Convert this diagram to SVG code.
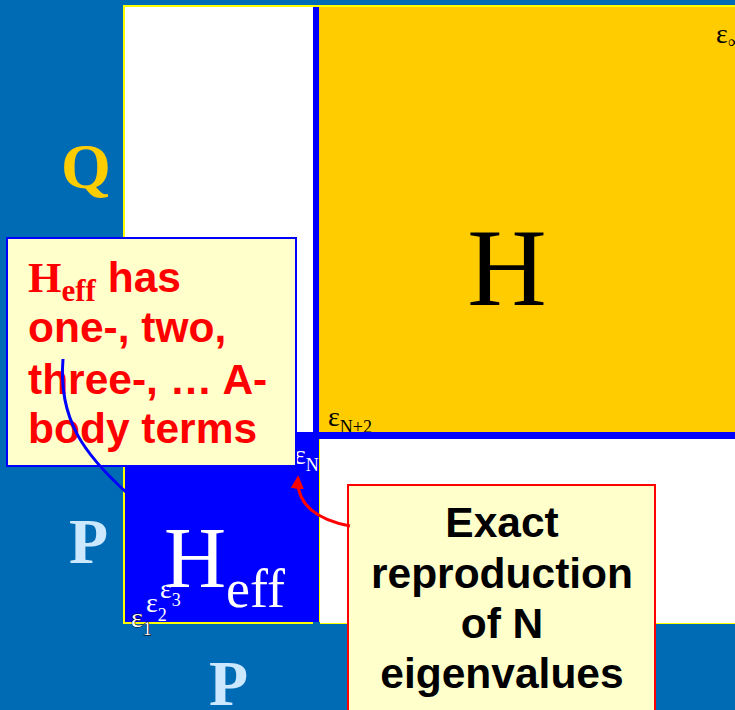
<svg xmlns="http://www.w3.org/2000/svg" width="735" height="710" viewBox="0 0 735 710">
<defs>
<style>
.serif{font-family:"Liberation Serif","Times New Roman",serif}
.sans{font-family:"Liberation Sans",Arial,sans-serif;font-weight:bold}
.big{font-weight:bold;font-size:64px;fill:#CCE8FF}
.eps{font-size:28px}
.sub{font-size:18px}
.callout{fill:#FFFFCC;stroke-width:2}
.ct{font-size:42.5px}
</style>
<marker id="arrRed" viewBox="0 0 10 10" refX="8" refY="5" markerWidth="4.5" markerHeight="4.5" orient="auto" markerUnits="strokeWidth">
<path d="M0,0 L10,5 L0,10 z" fill="#FF0000"/>
</marker>
</defs>
<rect width="735" height="710" fill="#006BB5"/>
<g id="frame">
<rect x="123" y="5" width="612" height="619" fill="#FFFF00"/>
</g>
<g id="block-Q-white">
<rect x="125" y="7" width="188" height="426" fill="#FFFFFF"/>
</g>
<g id="block-H">
<rect x="313" y="7" width="6" height="426" fill="#0000FF"/>
<rect x="319" y="7" width="416" height="425" fill="#FFCC00"/>
<text class="serif" x="507" y="305" font-size="110" text-anchor="middle" fill="#000">H</text>
<text class="serif eps" x="716" y="43" fill="#000">ε<tspan class="sub" dy="5">∞</tspan></text>
<text class="serif eps" x="328" y="426" fill="#000">ε<tspan class="sub" dy="7">N+2</tspan></text>
</g>
<g id="block-P-white">
<rect x="318" y="432" width="417" height="7" fill="#0000FF"/>
<rect x="320" y="439" width="415" height="184" fill="#FFFFFF"/>
</g>
<g id="block-Heff">
<rect x="125" y="432" width="194" height="190" fill="#0000FF"/>
<rect x="313" y="622" width="7" height="2" fill="#006BB5"/>
<text class="serif" x="164" y="587" font-size="86" fill="#FFF">H<tspan font-size="54" dy="20">eff</tspan></text>
<text class="serif eps" x="294" y="464" fill="#FFF">ε<tspan class="sub" dy="7">N</tspan></text>
<text class="serif eps" x="160" y="598" fill="#FFF">ε<tspan class="sub" dy="8">3</tspan></text>
<text class="serif eps" x="146" y="612" fill="#FFF">ε<tspan class="sub" dy="9">2</tspan></text>
<text class="serif eps" x="131" y="627" fill="#FFF" stroke="#000" stroke-width="1" paint-order="stroke">ε<tspan class="sub" dy="8">1</tspan></text>
</g>
<g id="labels">
<text class="serif big" x="61" y="188" style="fill:#FFCC00">Q</text>
<text class="serif big" x="69" y="563">P</text>
<text class="serif big" x="209" y="705">P</text>
</g>
<g id="callout-left">
<rect class="callout" x="7" y="238" width="289" height="228" stroke="#0000FF"/>
<text fill="#FF0000"><tspan class="serif" font-weight="bold" font-size="43" x="28" y="292">H</tspan><tspan class="serif" font-weight="bold" font-size="31" dy="9">eff</tspan><tspan class="sans ct" dy="-9"> has</tspan></text>
<text class="sans ct" fill="#FF0000" x="28" y="342">one-, two,</text>
<text class="sans ct" fill="#FF0000" x="28" y="394">three-, … A-</text>
<text class="sans ct" fill="#FF0000" x="28" y="443">body terms</text>
</g>
<g id="callout-right">
<rect class="callout" x="348" y="485" width="307" height="240" stroke="#FF0000"/>
<g class="sans ct" fill="#000" text-anchor="middle">
<text x="502" y="537">Exact</text>
<text x="502" y="588">reproduction</text>
<text x="502" y="638">of N</text>
<text x="502" y="688">eigenvalues</text>
</g>
</g>
<g id="connectors" fill="none">
<path d="M63,359 C58,420 85,455 127,493" stroke="#0000FF" stroke-width="3"/>
<path d="M350,526 C318,520 296,505 298,478" stroke="#FF0000" stroke-width="3" marker-end="url(#arrRed)"/>
</g>
</svg>
